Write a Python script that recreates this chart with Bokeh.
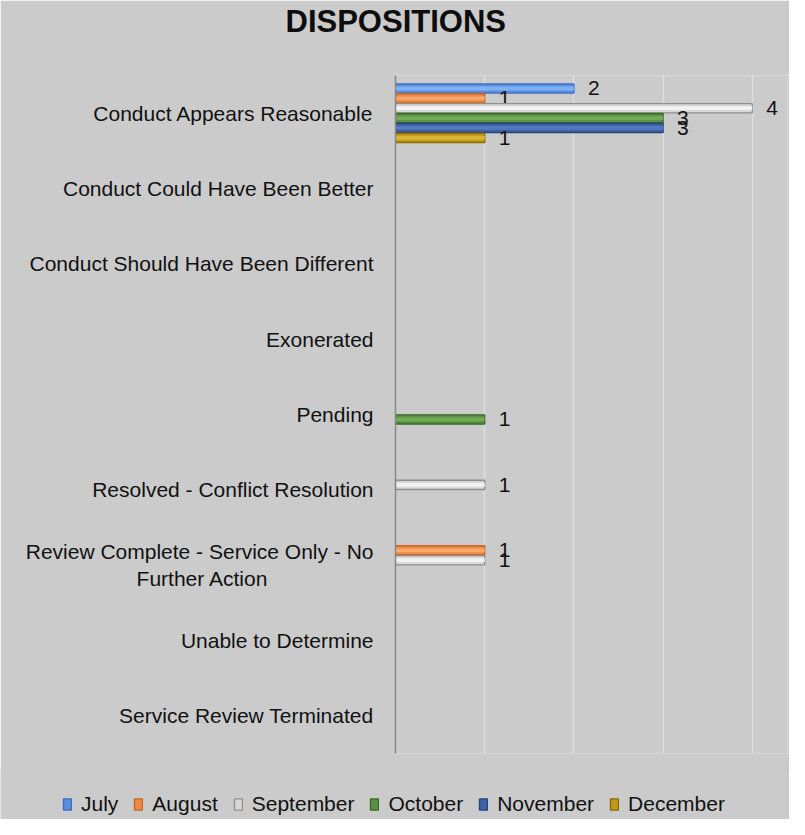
from bokeh.plotting import figure
from bokeh.models import (Range1d, FactorRange, FixedTicker, Legend, LegendItem,
                          ColumnDataSource, Title)
from bokeh.transform import dodge
from bokeh.core.properties import value
from bokeh.embed import file_html
from bokeh.resources import INLINE

NB = "\u00a0"
categories = [
    "Conduct Appears Reasonable",
    "Conduct Could Have Been Better",
    "Conduct Should Have Been Different",
    "Exonerated",
    "Pending",
    "Resolved - Conflict Resolution",
    "Review Complete - Service Only - No\nFurther Action" + NB * 18,
    "Unable to Determine",
    "Service Review Terminated",
]
months = ["July", "August", "September", "October", "November", "December"]
july      = [2, 0, 0, 0, 0, 0, 0, 0, 0]
august    = [1, 0, 0, 0, 0, 0, 1, 0, 0]
september = [4, 0, 0, 0, 0, 1, 1, 0, 0]
october   = [3, 0, 0, 0, 1, 0, 0, 0, 0]
november  = [3, 0, 0, 0, 0, 0, 0, 0, 0]
december  = [1, 0, 0, 0, 0, 0, 0, 0, 0]
series = [july, august, september, october, november, december]

fills  = ["#5A8FE0", "#EE8A3F", "#D8D8D8", "#5A9142", "#3E62A5", "#C39A16"]
lines  = ["#3C6CC2", "#C4662A", "#8F8F8F", "#3C672B", "#26437A", "#8A6A08"]
lights = ["#80B2F8", "#F8A86A", "#F3F3F3", "#71A957", "#5479C0", "#DAB436"]

BG = "#CBCBCB"
FONT = "Liberation Sans"

p = figure(width=789, height=769, title=None,
           y_range=FactorRange(factors=categories[::-1]),
           x_range=Range1d(0, 4.395),
           output_backend="svg", toolbar_location=None,
           min_border_left=395, min_border_right=2,
           min_border_top=75, min_border_bottom=16)
p.background_fill_color = BG
p.border_fill_color = BG
p.outline_line_color = None

p.xaxis.visible = False
p.ygrid.visible = False
p.xgrid.ticker = FixedTicker(ticks=[1, 2, 3, 4])
p.xgrid.grid_line_color = "#DDDDDD"
p.xgrid.grid_line_width = 1.5

ax = p.yaxis[0]
ax.axis_line_color = "#878787"
ax.axis_line_width = 1.5
ax.major_tick_line_color = None
ax.minor_tick_line_color = None
ax.major_tick_out = 0
ax.major_tick_in = 0
ax.major_label_standoff = 22
ax.major_label_text_font = FONT
ax.major_label_text_font_size = "21px"
ax.major_label_text_color = "#111111"

step = 0.131
for i, (m, vals) in enumerate(zip(months, series)):
    cats = [c for c, v in zip(categories, vals) if v > 0]
    vs = [v for v in vals if v > 0]
    src = ColumnDataSource(dict(cat=cats, val=vs, lab=[str(v) for v in vs]))
    off = (2.5 - i) * step
    p.hbar(y=dodge("cat", off, range=p.y_range), left=0, right="val",
           height=0.122, source=src, fill_color=fills[i],
           line_color=lines[i], line_width=1.4)
    p.hbar(y=dodge("cat", off, range=p.y_range), left=0, right="val",
           height=0.05, source=src, fill_color=lights[i], line_color=None)
    p.text(x="val", y=dodge("cat", off, range=p.y_range), text="lab", source=src,
           x_offset=14, text_align="left", text_baseline="middle",
           text_font=value(FONT), text_font_size="21px", text_color="#111111")

spacer = Title(text=" ", text_font_size="10px", standoff=19)
p.add_layout(spacer, "above")
title = Title(text="DISPOSITIONS", text_font=FONT, text_font_size="31px",
              text_font_style="bold", text_color="#0D0D0D", align="left",
              offset=-110, vertical_align="top", standoff=6)
p.add_layout(title, "above")

# legend strip (separate root so its frame spans the full width)
leg = figure(width=789, height=51, output_backend="svg", toolbar_location=None,
             x_range=Range1d(0, 1), y_range=Range1d(0, 1),
             x_axis_location=None, y_axis_location=None,
             min_border=0, min_border_left=0, min_border_right=0,
             min_border_top=0, min_border_bottom=0)
leg.styles = {"margin-top": "-1px"}
leg.background_fill_color = BG
leg.border_fill_color = BG
leg.outline_line_color = None
leg.xgrid.visible = False
leg.ygrid.visible = False
items = []
for i, m in enumerate(months):
    # swatch renderer only (its single point lies outside the view)
    r = leg.hbar(y=[5], right=[6], left=5, height=0.5, fill_color=fills[i],
                 line_color=lines[i], line_width=1.4)
    items.append(LegendItem(label=m, renderers=[r]))

legend = Legend(items=items, orientation="horizontal", location=(62, 3))
legend.background_fill_alpha = 0
legend.border_line_color = None
legend.padding = 0
legend.margin = 0
legend.glyph_width = 10
legend.glyph_height = 14
legend.label_standoff = 9
legend.spacing = 15
legend.label_text_font = FONT
legend.label_text_font_size = "21px"
legend.label_text_color = "#111111"
leg.add_layout(legend)

open("out.html", "w").write(file_html([p, leg], INLINE))
